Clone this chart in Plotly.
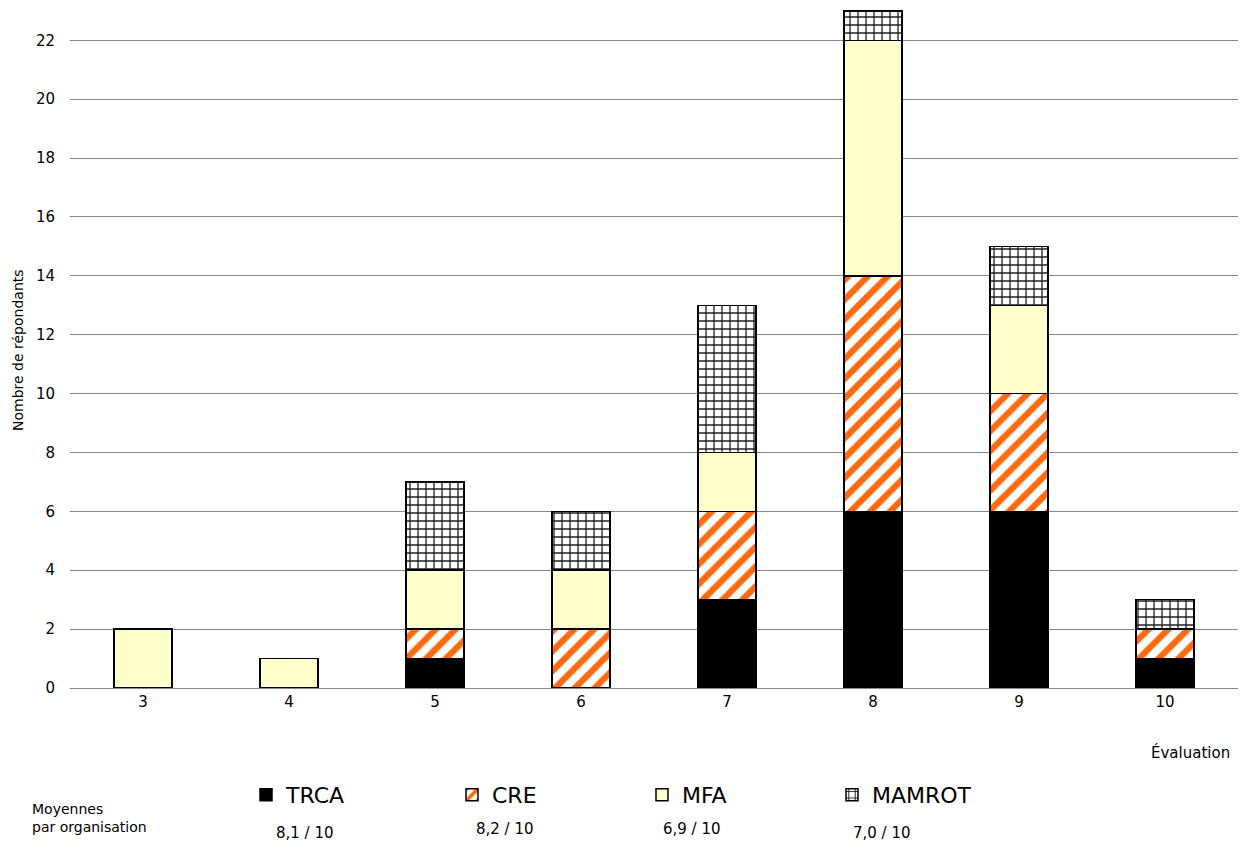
import plotly.graph_objects as go

# Évaluation scores (x axis) and respondents per organisation
evaluations = ["3", "4", "5", "6", "7", "8", "9", "10"]
trca = [0, 0, 1, 0, 3, 6, 6, 1]
cre = [0, 0, 1, 2, 3, 8, 4, 1]
mfa = [2, 1, 2, 2, 2, 8, 3, 0]
mamrot = [0, 0, 3, 2, 5, 1, 2, 1]

organisations = ["TRCA", "CRE", "MFA", "MAMROT"]
averages = ["8,1 / 10", "8,2 / 10", "6,9 / 10", "7,0 / 10"]

FONT = "DejaVu Sans"
W, H = 1241, 848
ML, MR, MT, MB = 70, 3, 5, 160
PW = W - ML - MR
PH = H - MT - MB


def px(xp):
    return (xp - ML) / PW


def py(yp):
    return (H - MB - yp) / PH


line = dict(color="black", width=1.5)
fig = go.Figure()
fig.add_bar(x=evaluations, y=trca, name=organisations[0], legend="legend",
            marker=dict(color="black", line=line))
fig.add_bar(x=evaluations, y=cre, name=organisations[1], legend="legend2",
            marker=dict(color="white", line=line,
                        pattern=dict(shape="/", fgcolor="#ff6a10", bgcolor="white",
                                     size=14, solidity=0.45, fillmode="replace")))
fig.add_bar(x=evaluations, y=mfa, name=organisations[2], legend="legend3",
            marker=dict(color="#ffffcc", line=line))
fig.add_bar(x=evaluations, y=mamrot, name=organisations[3], legend="legend4",
            marker=dict(color="white", line=line,
                        pattern=dict(shape="+", fgcolor="#222222", bgcolor="white",
                                     size=8, solidity=0.3, fillmode="replace")))

legend_x = [246, 452, 642, 832]
leg_common = dict(orientation="h", yanchor="middle", xanchor="left",
                  font=dict(family=FONT, size=22, color="black"),
                  bgcolor="rgba(0,0,0,0)", itemwidth=30, traceorder="normal")
legends = {}
for i, lx in enumerate(legend_x):
    key = "legend" if i == 0 else f"legend{i + 1}"
    legends[key] = dict(leg_common, x=px(lx), y=py(795))

annotations = [
    dict(text="Nombre de répondants", x=0, xref="paper", y=py(350), yref="paper",
         xanchor="center", yanchor="middle", xshift=-52, textangle=-90,
         showarrow=False, font=dict(family=FONT, size=14, color="black")),
    dict(text="Évaluation", x=px(1190), y=py(752), xref="paper", yref="paper",
         xanchor="center", yanchor="middle", showarrow=False,
         font=dict(family=FONT, size=15, color="black")),
    dict(text="Moyennes<br>par organisation", x=px(30), y=py(818), xref="paper",
         yref="paper", xanchor="left", yanchor="middle", align="left",
         showarrow=False, font=dict(family=FONT, size=14, color="black")),
]
avg_pos = [(305, 833), (505, 829), (692, 829), (882, 833)]
for txt, (ax_, ay_) in zip(averages, avg_pos):
    annotations.append(dict(text=txt, x=px(ax_), y=py(ay_), xref="paper", yref="paper",
                            xanchor="center", yanchor="middle", showarrow=False,
                            font=dict(family=FONT, size=15, color="black")))

fig.update_layout(
    width=W, height=H,
    margin=dict(l=ML, r=MR, t=MT, b=MB),
    barmode="stack", bargap=0.6,
    plot_bgcolor="white", paper_bgcolor="white",
    font=dict(family=FONT, size=15, color="black"),
    showlegend=True,
    annotations=annotations,
    **legends,
)
fig.update_xaxes(showgrid=False, showline=False, ticks="", tickfont=dict(size=15),
                 ticklabelstandoff=3)
fig.update_yaxes(range=[0, 23.2], dtick=2, showgrid=True, gridcolor="#888888",
                 gridwidth=1.4, zeroline=True, zerolinecolor="#888888", zerolinewidth=1.4,
                 showline=False, ticks="", ticklabelstandoff=14, tickfont=dict(size=15))

fig.write_html("out.html")
